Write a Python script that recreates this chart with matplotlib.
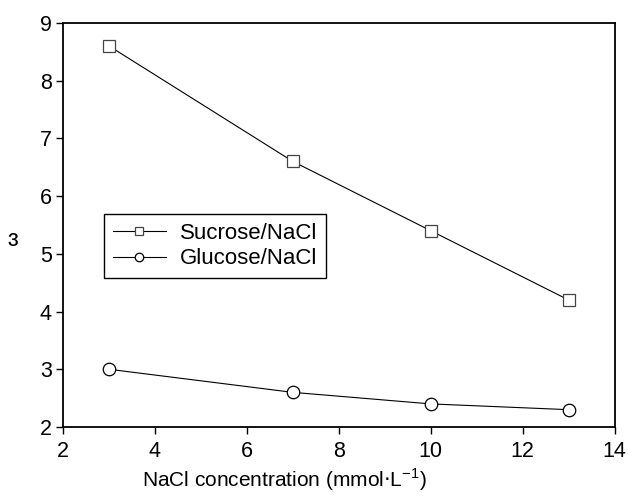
import matplotlib
matplotlib.use("Agg")
import matplotlib.pyplot as plt

plt.rcParams['font.family'] = ['Liberation Sans', 'DejaVu Sans']

nacl = [3, 7, 10, 13]
sucrose = [8.6, 6.6, 5.4, 4.2]
glucose = [3.0, 2.6, 2.4, 2.3]

fig = plt.figure(figsize=(6.29, 4.99), dpi=100)
ax = fig.add_axes([0.100, 0.1443, 0.877, 0.810])

ax.plot(nacl, sucrose, color='black', lw=0.8, marker='s', ms=8.5,
        mfc='white', mec='#444444', mew=0.9, label='Sucrose/NaCl')
ax.plot(nacl, glucose, color='black', lw=0.8, marker='o', ms=9,
        mfc='white', mec='black', mew=0.9, label='Glucose/NaCl')

ax.set_xlim(2, 14)
ax.set_ylim(2, 9)
ax.set_xticks(range(2, 15, 2))
ax.set_yticks(range(2, 10))
ax.tick_params(direction='out', length=5, width=1, labelsize=15.5, pad=3)
ax.tick_params(axis='x', pad=5)
for s in ax.spines.values():
    s.set_linewidth(1.3)

# x label is offset to the left of the axes centre in the original
fig.text(0.452, 0.012, r'NaCl concentration (mmol$\cdot$L$^{\mathregular{-1}}$)',
         fontsize=15, ha='center', va='bottom')
fig.text(0.021, 0.519, 'ɜ', fontsize=17, ha='center', va='center')

leg = ax.legend(loc='upper left', bbox_to_anchor=(0.0744, 0.527), fontsize=16,
                handlelength=2.4, handletextpad=0.6, borderpad=0.4,
                borderaxespad=0, labelspacing=0.2, fancybox=False,
                framealpha=1, edgecolor='black', markerscale=0.68)
leg.get_frame().set_linewidth(1.0)

fig.savefig('out.png', dpi=100)
